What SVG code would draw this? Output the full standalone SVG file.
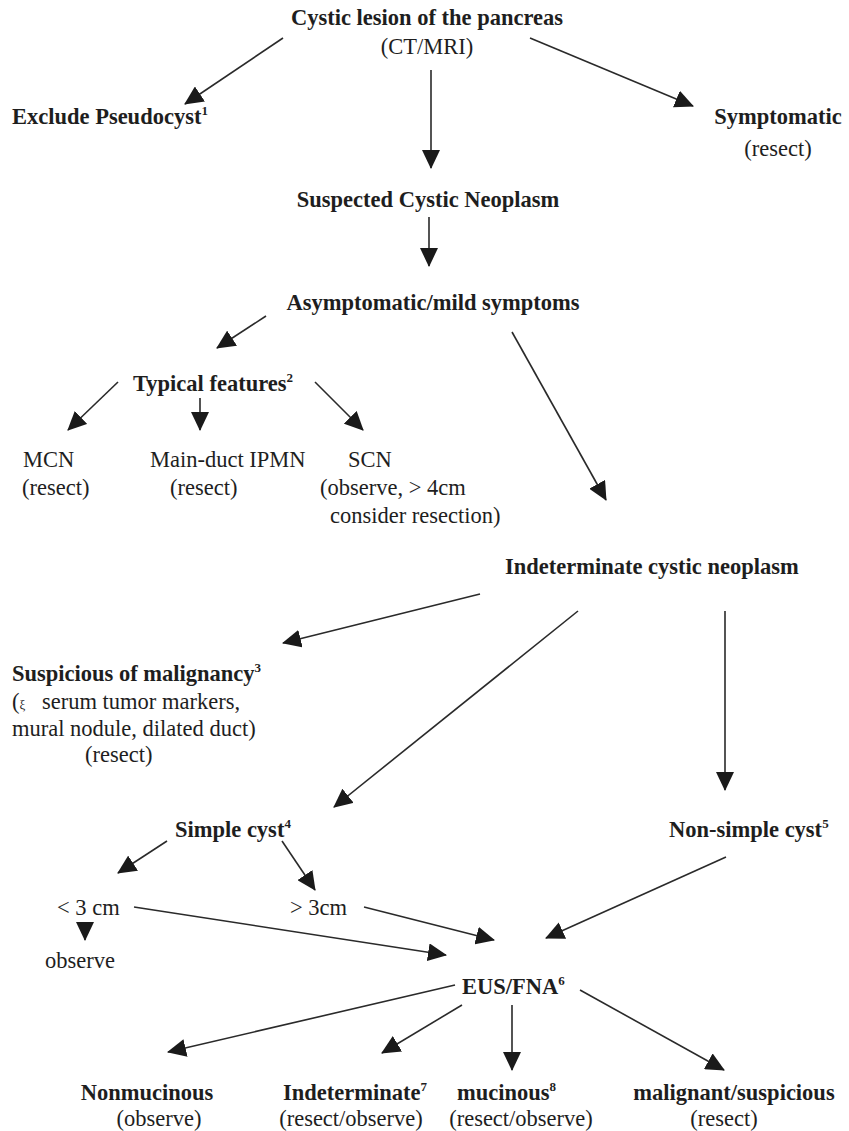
<svg xmlns="http://www.w3.org/2000/svg" width="849" height="1131" viewBox="0 0 849 1131">
<style>
text{fill:#1e1e1e;font-family:"Liberation Serif","Times New Roman",serif;font-size:22.5px}
.b{font-weight:bold}
.m{text-anchor:middle}
.sup{font-size:13px;font-weight:bold}
.c line{stroke:#2a2a2a;stroke-width:1.6;marker-end:url(#ah)}
</style>
<defs>
<marker id="ah" viewBox="0 0 19 18" refX="18" refY="9" markerWidth="19" markerHeight="18" markerUnits="userSpaceOnUse" orient="auto">
<path d="M0,0 L19,9 L0,18 z" fill="#1a1a1a"/>
</marker>
</defs>
<rect width="849" height="1131" fill="#ffffff"/>

<g id="n-cystic"><text class="b m" x="427" y="25">Cystic lesion of the pancreas</text><text class="m" x="427" y="54">(CT/MRI)</text></g>
<g id="n-exclude"><text class="b" x="12" y="124">Exclude Pseudocyst<tspan class="sup" dy="-9">1</tspan></text></g>
<g id="n-symptomatic"><text class="b m" x="778" y="124">Symptomatic</text><text class="m" x="778" y="156">(resect)</text></g>
<g id="n-suspected"><text class="b m" x="428" y="207">Suspected Cystic Neoplasm</text></g>
<g id="n-asym"><text class="b m" x="433" y="310">Asymptomatic/mild symptoms</text></g>
<g id="n-typical"><text class="b" x="133" y="391">Typical features<tspan class="sup" dy="-9">2</tspan></text></g>
<g id="n-mcn"><text x="23" y="467">MCN</text><text x="22" y="495">(resect)</text></g>
<g id="n-ipmn"><text x="150" y="467">Main-duct IPMN</text><text x="170" y="495">(resect)</text></g>
<g id="n-scn"><text x="348" y="467">SCN</text><text x="320" y="495">(observe, &gt; 4cm</text><text x="330" y="523">consider resection)</text></g>
<g id="n-indet"><text class="b" x="505" y="574">Indeterminate cystic neoplasm</text></g>
<g id="n-susp"><text class="b" x="12" y="681">Suspicious of malignancy<tspan class="sup" dy="-9">3</tspan></text><text x="12" y="709">(<tspan font-size="13">ξ</tspan><tspan x="42">serum tumor markers,</tspan></text><text x="12" y="736">mural nodule, dilated duct)</text><text x="85" y="762">(resect)</text></g>
<g id="n-simple"><text class="b" x="175" y="837">Simple cyst<tspan class="sup" dy="-9">4</tspan></text></g>
<g id="n-nonsimple"><text class="b" x="669" y="837">Non-simple cyst<tspan class="sup" dy="-9">5</tspan></text></g>
<g id="n-lt3"><text x="57" y="915">&lt; 3 cm</text></g>
<g id="n-gt3"><text x="290" y="915">&gt; 3cm</text></g>
<g id="n-observe"><text x="45" y="968">observe</text></g>
<g id="n-eus"><text class="b" x="462" y="994">EUS/FNA<tspan class="sup" dy="-9">6</tspan></text></g>
<g id="n-nonmuc"><text class="b m" x="147" y="1100">Nonmucinous</text><text class="m" x="159" y="1126">(observe)</text></g>
<g id="n-indet2"><text class="b" x="283" y="1100">Indeterminate<tspan class="sup" dy="-9">7</tspan></text><text class="m" x="351" y="1126">(resect/observe)</text></g>
<g id="n-muc"><text class="b" x="457" y="1100">mucinous<tspan class="sup" dy="-9">8</tspan></text><text class="m" x="521" y="1126">(resect/observe)</text></g>
<g id="n-malig"><text class="b m" x="734" y="1100">malignant/suspicious</text><text class="m" x="724" y="1126">(resect)</text></g>

<g id="connectors" class="c">
<line x1="283" y1="38" x2="185" y2="104"/>
<line x1="431" y1="70" x2="431" y2="168"/>
<line x1="530" y1="38" x2="693" y2="106"/>
<line x1="429" y1="217" x2="429" y2="266"/>
<line x1="266" y1="316" x2="217" y2="348"/>
<line x1="512" y1="332" x2="606" y2="500"/>
<line x1="118" y1="382" x2="68" y2="430"/>
<line x1="200" y1="398" x2="200" y2="430"/>
<line x1="315" y1="382" x2="363" y2="430"/>
<line x1="480" y1="594" x2="283" y2="643"/>
<line x1="578" y1="611" x2="334" y2="807"/>
<line x1="725" y1="611" x2="725" y2="790"/>
<line x1="167" y1="841" x2="118" y2="873"/>
<line x1="282" y1="841" x2="315" y2="890"/>
<line x1="85" y1="922" x2="85" y2="940"/>
<line x1="134" y1="907" x2="446" y2="955"/>
<line x1="364" y1="907" x2="494" y2="940"/>
<line x1="726" y1="857" x2="546" y2="938"/>
<line x1="455" y1="985" x2="168" y2="1052"/>
<line x1="462" y1="1005" x2="382" y2="1053"/>
<line x1="512" y1="1005" x2="512" y2="1070"/>
<line x1="580" y1="990" x2="724" y2="1070"/>
</g>
</svg>
